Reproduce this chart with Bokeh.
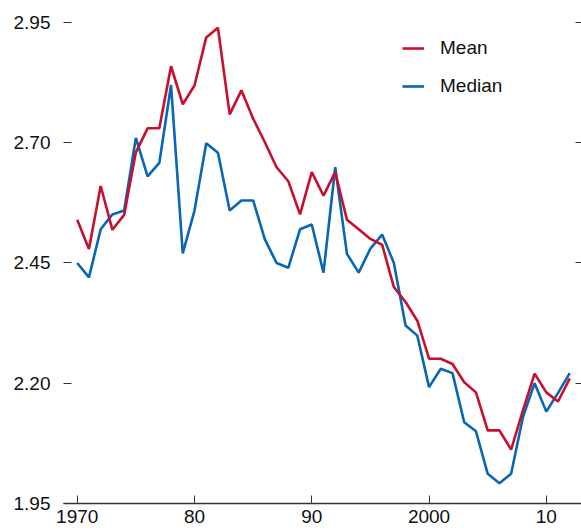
from bokeh.plotting import figure
from bokeh.models import FixedTicker, LinearAxis, Legend, LegendItem, Range1d, ColumnDataSource
from bokeh.embed import file_html
from bokeh.resources import INLINE

years = list(range(1970, 2013))
mean = [2.540, 2.479, 2.610, 2.519, 2.550, 2.680, 2.730, 2.730, 2.859, 2.780,
        2.819, 2.919, 2.939, 2.759, 2.809, 2.750, 2.701, 2.649, 2.620, 2.551,
        2.639, 2.590, 2.639, 2.540, 2.520, 2.500, 2.488, 2.400, 2.369, 2.330,
        2.251, 2.251, 2.240, 2.202, 2.181, 2.102, 2.102, 2.062, 2.143, 2.220,
        2.181, 2.162, 2.210]
median = [2.450, 2.420, 2.520, 2.551, 2.559, 2.710, 2.630, 2.658, 2.820, 2.470,
          2.559, 2.699, 2.679, 2.559, 2.580, 2.580, 2.499, 2.450, 2.440, 2.520,
          2.530, 2.430, 2.649, 2.469, 2.430, 2.480, 2.509, 2.450, 2.320, 2.299,
          2.192, 2.230, 2.221, 2.119, 2.100, 2.012, 1.992, 2.012, 2.129, 2.200,
          2.141, 2.180, 2.221]
y_ticks = [1.95, 2.20, 2.45, 2.70, 2.95]
x_ticks = [1970, 1980, 1990, 2000, 2010]
x_tick_labels = ["1970", "80", "90", "2000", "10"]
series_names = ["Mean", "Median"]

FONT = "Liberation Sans"
RED = "#C8102E"
BLUE = "#0866B2"

src = ColumnDataSource(dict(year=years, mean=mean, median=median))

p = figure(width=581, height=531, output_backend="svg", toolbar_location=None,
           x_range=Range1d(1968.83, 2013.0), y_range=Range1d(1.95, 2.9957),
           min_border_left=63, min_border_right=0, min_border_top=0, min_border_bottom=28,
           y_axis_location=None)
p.outline_line_color = None
p.xgrid.visible = False
p.ygrid.visible = False
p.background_fill_color = "white"
p.border_fill_color = "white"

r_med = p.line("year", "median", source=src, line_color=BLUE, line_width=2.6)
r_mean = p.line("year", "mean", source=src, line_color=RED, line_width=2.6)

# x axis
xa = p.xaxis[0]
xa.ticker = FixedTicker(ticks=x_ticks)
xa.major_label_overrides = {t: l for t, l in zip(x_ticks, x_tick_labels)}
xa.axis_line_color = "#333333"
xa.axis_line_width = 1.3
xa.major_tick_line_color = "#333333"
xa.major_tick_in = 8
xa.major_tick_out = 0
xa.minor_tick_line_color = None
xa.major_label_text_font = FONT
xa.major_label_text_font_size = "19px"
xa.major_label_text_color = "#111111"
xa.major_label_standoff = 6

# left axis
ya = LinearAxis(ticker=FixedTicker(ticks=y_ticks))
ya.major_label_overrides = {t: f"{t:.2f}" for t in y_ticks}
ya.axis_line_color = None
ya.major_tick_line_color = "#333333"
ya.major_tick_in = 8
ya.major_tick_out = 0
ya.minor_tick_line_color = None
ya.major_label_text_font = FONT
ya.major_label_text_font_size = "19px"
ya.major_label_text_color = "#111111"
ya.major_label_standoff = 13
p.add_layout(ya, "left")

# right axis (ticks only)
ra = LinearAxis(ticker=FixedTicker(ticks=y_ticks))
ra.major_label_overrides = {t: "" for t in y_ticks}
ra.axis_line_color = None
ra.major_tick_line_color = "#333333"
ra.major_tick_in = 6
ra.major_tick_out = 0
ra.minor_tick_line_color = None
ra.major_label_standoff = 0
ra.major_label_text_font_size = "0px"
p.add_layout(ra, "right")

legend = Legend(items=[LegendItem(label=series_names[0], renderers=[r_mean]),
                       LegendItem(label=series_names[1], renderers=[r_med])],
                location=(339, 406))
legend.border_line_color = None
legend.background_fill_alpha = 0
legend.padding = 0
legend.margin = 0
legend.spacing = 16
legend.glyph_width = 22
legend.glyph_height = 20
legend.label_height = 20
legend.label_standoff = 16
legend.label_text_font = FONT
legend.label_text_font_size = "19px"
legend.label_text_color = "#111111"
legend.label_text_baseline = "middle"
p.add_layout(legend, "center")

open("out.html", "w").write(file_html(p, INLINE))
